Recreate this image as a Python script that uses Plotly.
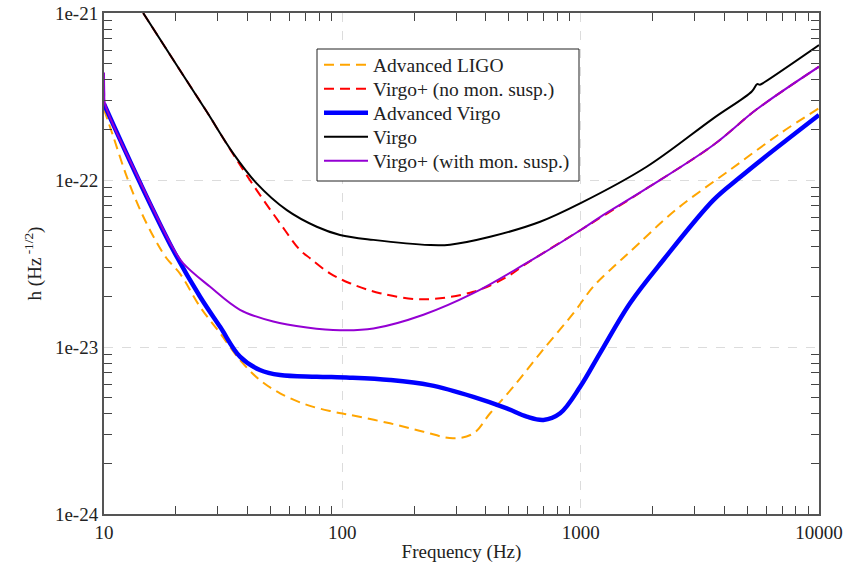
import plotly.graph_objects as go

# ---- data ----
ligo_f = [10, 10.94, 12.45, 14.2, 16.4, 18.3, 20.8, 25.3, 30.7, 37.2, 45.1, 54.8, 71, 91.6, 107.6,
          158.5, 219, 292, 355, 417, 522, 676, 931, 1130, 1400, 1611, 2500, 4236, 6870, 10000]
ligo_h = [2.65e-22, 1.82e-22, 1.05e-22, 6.6e-23, 4.38e-23, 3.4e-23, 2.76e-23, 1.74e-23, 1.21e-23,
          8.36e-24, 6.34e-24, 5.28e-24, 4.5e-24, 4.1e-24, 3.92e-24, 3.49e-24, 3.11e-24, 2.84e-24,
          3.04e-24, 4.01e-24, 5.78e-24, 9.17e-24, 1.59e-23, 2.3e-23, 3.1e-23, 3.72e-23, 6.6e-23,
          1.15e-22, 1.9e-22, 2.69e-22]

vplus_nomon_f = [14.6, 20.8, 27.0, 34.9, 43.7, 54.8, 66.4, 73.2, 88.7, 107.6, 143.9, 218.9, 354.6,
                 489.8, 594, 1000, 1892, 3604, 5480, 10000]
vplus_nomon_h = [1e-21, 4.56e-22, 2.56e-22, 1.42e-22, 8.7e-23, 5.5e-23, 3.81e-23, 3.4e-23, 2.76e-23,
                 2.41e-23, 2.1e-23, 1.93e-23, 2.14e-23, 2.63e-23, 3.17e-23, 5.02e-23, 8.9e-23,
                 1.62e-22, 2.65e-22, 4.77e-22]

advvirgo_f = [10, 14.2, 19.5, 25.3, 30.7, 37.2, 45.1, 54.8, 78.1, 107.6, 158.5, 233, 354.6, 489.8,
              594, 698, 820, 995, 1206, 1611, 2222, 3604, 4592, 5847, 10000]
advvirgo_h = [2.85e-22, 9.55e-23, 3.81e-23, 2.0e-23, 1.32e-23, 8.75e-24, 7.28e-24, 6.79e-24,
              6.64e-24, 6.55e-24, 6.34e-24, 5.91e-24, 5.03e-24, 4.29e-24, 3.83e-24, 3.66e-24,
              4.01e-24, 5.78e-24, 9.2e-24, 1.83e-23, 3.32e-23, 7.58e-23, 1.02e-22, 1.35e-22,
              2.45e-22]

virgo_f = [14.6, 20.8, 27.0, 34.9, 43.7, 58.5, 78.1, 97.8, 135, 233, 283, 417, 676, 995, 1892,
           3604, 5224, 5500, 5650, 5900, 10000]
virgo_h = [1e-21, 4.56e-22, 2.56e-22, 1.44e-22, 9.55e-23, 6.6e-23, 5.25e-23, 4.69e-23, 4.38e-23,
           4.08e-23, 4.1e-23, 4.57e-23, 5.62e-23, 7.24e-23, 1.2e-22, 2.34e-22, 3.39e-22,
           3.75e-22, 3.72e-22, 3.85e-22, 6.43e-22]

vplus_mon_f = [10, 10.03, 10.1, 14.2, 19.5, 21.5, 27.8, 37.2, 51.3, 71, 97.8, 135, 218.9, 354.6,
               575, 1000, 1206, 1892, 3604, 5480, 10000]
vplus_mon_h = [4.4e-22, 3.3e-22, 2.85e-22, 9.7e-23, 3.9e-23, 3.17e-23, 2.3e-23, 1.67e-23, 1.42e-23,
               1.31e-23, 1.26e-23, 1.29e-23, 1.56e-23, 2.1e-23, 3.1e-23, 5.02e-23, 6.0e-23,
               8.9e-23, 1.62e-22, 2.65e-22, 4.77e-22]

series_names = ["Advanced LIGO", "Virgo+ (no mon. susp.)", "Advanced Virgo", "Virgo",
                "Virgo+ (with mon. susp.)"]

x_tickvals = [10, 100, 1000, 10000]
x_ticktext = ["10", "100", "1000", "10000"]
y_tickvals = [1e-24, 1e-23, 1e-22, 1e-21]
y_ticktext = ["1e-24", "1e-23", "1e-22", "1e-21"]

x_minor = [k * 10 ** e for e in range(1, 4) for k in range(2, 10)]
y_minor = [k * 10.0 ** e for e in range(-24, -21) for k in range(2, 10)]

FONT = "Liberation Serif, Times New Roman, serif"
TXT = "#222"

# plot-area geometry (px) used to place the legend box
L, R, T, B = 104, 819, 13, 514
def px_x(p):
    return (p - L) / (R - L)
def px_y(p):
    return (B - p) / (B - T)

fig = go.Figure()
series = [
    (ligo_f, ligo_h, "#FFA500", 2, "10px,6px"),
    (vplus_nomon_f, vplus_nomon_h, "#FF0000", 2, "10px,6px"),
    (advvirgo_f, advvirgo_h, "#0000FF", 4.5, "solid"),
    (virgo_f, virgo_h, "#000000", 2, "solid"),
    (vplus_mon_f, vplus_mon_h, "#9400D3", 2, "solid"),
]
legend_rows = [65, 89, 113, 137, 161]
legends = {}
for i, ((f, h, col, w, dash), name) in enumerate(zip(series, series_names)):
    key = "legend" if i == 0 else f"legend{i + 1}"
    fig.add_trace(go.Scatter(x=f, y=h, name=name, mode="lines", legend=key,
                             line=dict(color=col, width=w, dash=dash, shape="spline",
                                       smoothing=1.0)))
    legends[key] = dict(x=px_x(319), y=px_y(legend_rows[i]), xanchor="left", yanchor="middle",
                        bgcolor="rgba(0,0,0,0)", borderwidth=0,
                        font=dict(family=FONT, size=19.5, color=TXT), itemwidth=44)

# legend frame
fig.add_shape(type="rect", xref="paper", yref="paper",
              x0=px_x(317), x1=px_x(579), y0=px_y(181), y1=px_y(49),
              line=dict(color="#222", width=1), fillcolor="white", layer="above")

axis_common = dict(
    type="log", showline=True, linecolor="#555", linewidth=2, mirror="allticks",
    ticks="", showgrid=True, gridcolor="#dcdcdc", griddash="dash", gridwidth=1,
    zeroline=False, tickfont=dict(family=FONT, size=19, color=TXT),
    tickmode="array",
)

fig.update_xaxes(**axis_common, range=[1, 4], tickvals=x_tickvals, ticktext=x_ticktext,
                 minor=dict(tickmode="array", tickvals=x_minor, ticks="inside", ticklen=8,
                            tickcolor="#444", tickwidth=1, showgrid=False),
                 title=dict(text="Frequency (Hz)", font=dict(family=FONT, size=19, color=TXT),
                            standoff=6))
fig.update_yaxes(**axis_common, range=[-24, -21], tickvals=y_tickvals, ticktext=y_ticktext,
                 minor=dict(tickmode="array", tickvals=y_minor, ticks="inside", ticklen=8,
                            tickcolor="#444", tickwidth=1, showgrid=False),
                 title=dict(text="h (Hz<sup> -1/2</sup>)", font=dict(family=FONT, size=19, color=TXT),
                            standoff=8))

fig.update_layout(
    width=847, height=563,
    margin=dict(l=L, r=847 - R, t=T, b=563 - B, autoexpand=False),
    paper_bgcolor="white", plot_bgcolor="white",
    font=dict(family=FONT, size=19, color=TXT),
    showlegend=True,
    **legends,
)

fig.write_html("out.html", config={"displayModeBar": False},
               post_script="document.body.style.margin='0px';document.body.style.overflow='hidden';")
